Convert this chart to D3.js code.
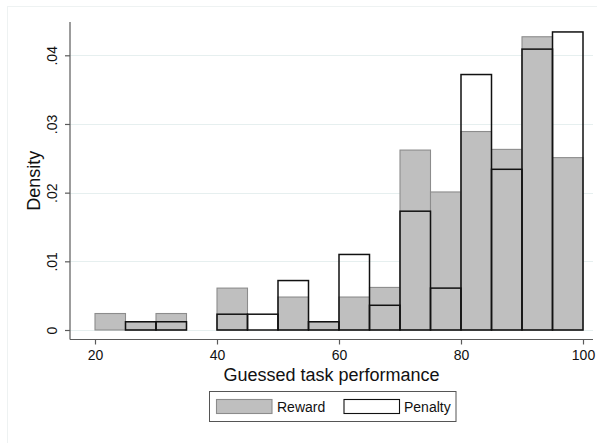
<!DOCTYPE html>
<html>
<head>
<meta charset="utf-8">
<script src="https://cdn.jsdelivr.net/npm/d3@7"></script>
<style>
  html, body { margin: 0; padding: 0; background: #fff; }
  svg { display: block; font-family: "Liberation Sans", Arial, Helvetica, sans-serif; }
</style>
</head>
<body>
<svg id="chart" width="597" height="443"></svg>
<script>
// Histogram bins (lower edge, width 5) and densities for each group
const binStarts = [20, 25, 30, 35, 40, 45, 50, 55, 60, 65, 70, 75, 80, 85, 90, 95];
const binWidth = 5;
const rewardDensity  = [0.0024, 0.0012, 0.0024, 0, 0.0061, 0, 0.0048, 0.0012, 0.0048, 0.0062, 0.0262, 0.0201, 0.0289, 0.0263, 0.0427, 0.0251];
const penaltyDensity = [0, 0.0012, 0.0012, 0, 0.0023, 0.0023, 0.0072, 0.0012, 0.0110, 0.0036, 0.0173, 0.0061, 0.0372, 0.0234, 0.0409, 0.0434];
const xTicks = [20, 40, 60, 80, 100];
const yTicks = [0, 0.01, 0.02, 0.03, 0.04];
const yTickLabels = ["0", ".01", ".02", ".03", ".04"];
const legendLabels = ["Reward", "Penalty"];

const svg = d3.select("#chart");

// faint outer frame
svg.append("rect")
  .attr("x", 7.5).attr("y", 6.5).attr("width", 600).attr("height", 450)
  .attr("fill", "none").attr("stroke", "#eef2f2").attr("stroke-width", 1);

const x = d3.scaleLinear().domain([20, 100]).range([95, 583]);
const y = d3.scaleLinear().domain([0, 0.04]).range([330, 55.3]);

const axisX = 70, axisY = 339.5, plotRight = 593, plotTop = 22;

// gridlines
svg.append("g").selectAll("line").data(yTicks).join("line")
  .attr("x1", axisX).attr("x2", plotRight)
  .attr("y1", d => Math.round(y(d)) + 0.5).attr("y2", d => Math.round(y(d)) + 0.5)
  .attr("stroke", "#e6efef").attr("stroke-width", 1);

const bins = binStarts.map((b, i) => ({ x0: b, x1: b + binWidth, r: rewardDensity[i], p: penaltyDensity[i] }));

// Reward: filled grey bars
svg.append("g").selectAll("rect").data(bins.filter(d => d.r > 0)).join("rect")
  .attr("x", d => x(d.x0)).attr("width", d => x(d.x1) - x(d.x0))
  .attr("y", d => y(d.r)).attr("height", d => y(0) - y(d.r))
  .attr("fill", "#bfbfbf").attr("stroke", "#8c8c8c").attr("stroke-width", 1.1);

// Penalty: outlined bars
svg.append("g").selectAll("rect").data(bins.filter(d => d.p > 0)).join("rect")
  .attr("x", d => x(d.x0)).attr("width", d => x(d.x1) - x(d.x0))
  .attr("y", d => y(d.p)).attr("height", d => y(0) - y(d.p))
  .attr("fill", "none").attr("stroke", "#111").attr("stroke-width", 1.5);

// y axis
const yAxis = svg.append("g").attr("transform", `translate(${axisX},0)`)
  .call(d3.axisLeft(y).tickValues(yTicks).tickSize(5).tickFormat((d, i) => yTickLabels[i]));
yAxis.select(".domain").attr("d", `M0,${plotTop}V${axisY}`);
yAxis.selectAll("line, .domain").attr("stroke", "#5a5a5a").attr("stroke-width", 1.2);
yAxis.selectAll("text")
  .attr("transform", "translate(-18,0) rotate(-90)")
  .attr("x", 0).attr("y", 0).attr("dy", "0.35em")
  .attr("text-anchor", "middle")
  .attr("font-size", 14).attr("fill", "#111");

// x axis
const xAxis = svg.append("g").attr("transform", `translate(0,${axisY})`)
  .call(d3.axisBottom(x).tickValues(xTicks).tickSize(5).tickFormat(d3.format("d")));
xAxis.select(".domain").attr("d", `M${axisX},0H${plotRight}`);
xAxis.selectAll("line, .domain").attr("stroke", "#5a5a5a").attr("stroke-width", 1.2);
xAxis.selectAll("text").attr("y", 11).attr("dy", "0.71em")
  .attr("font-size", 14).attr("fill", "#111");

// axis titles
svg.append("text").attr("transform", `translate(40,${(plotTop + axisY) / 2}) rotate(-90)`)
  .attr("text-anchor", "middle").attr("font-size", 18).attr("fill", "#111").text("Density");
svg.append("text").attr("x", (axisX + plotRight) / 2).attr("y", 381)
  .attr("text-anchor", "middle").attr("font-size", 18).attr("fill", "#111").text("Guessed task performance");

// legend
const lg = svg.append("g");
lg.append("rect").attr("x", 209.5).attr("y", 391.5).attr("width", 246.5).attr("height", 30)
  .attr("fill", "#fff").attr("stroke", "#555").attr("stroke-width", 1);
const swatches = [
  { x: 216.5, fill: "#bfbfbf", stroke: "#8c8c8c", tx: 277 },
  { x: 344, fill: "#fff", stroke: "#111", tx: 404 }
];
swatches.forEach((s, i) => {
  lg.append("rect").attr("x", s.x).attr("y", 399.5).attr("width", 55.5).attr("height", 14)
    .attr("fill", s.fill).attr("stroke", s.stroke).attr("stroke-width", 1.1);
  lg.append("text").attr("x", s.tx).attr("y", 411.5).attr("font-size", 14).attr("fill", "#111")
    .text(legendLabels[i]);
});
</script>
</body>
</html>
